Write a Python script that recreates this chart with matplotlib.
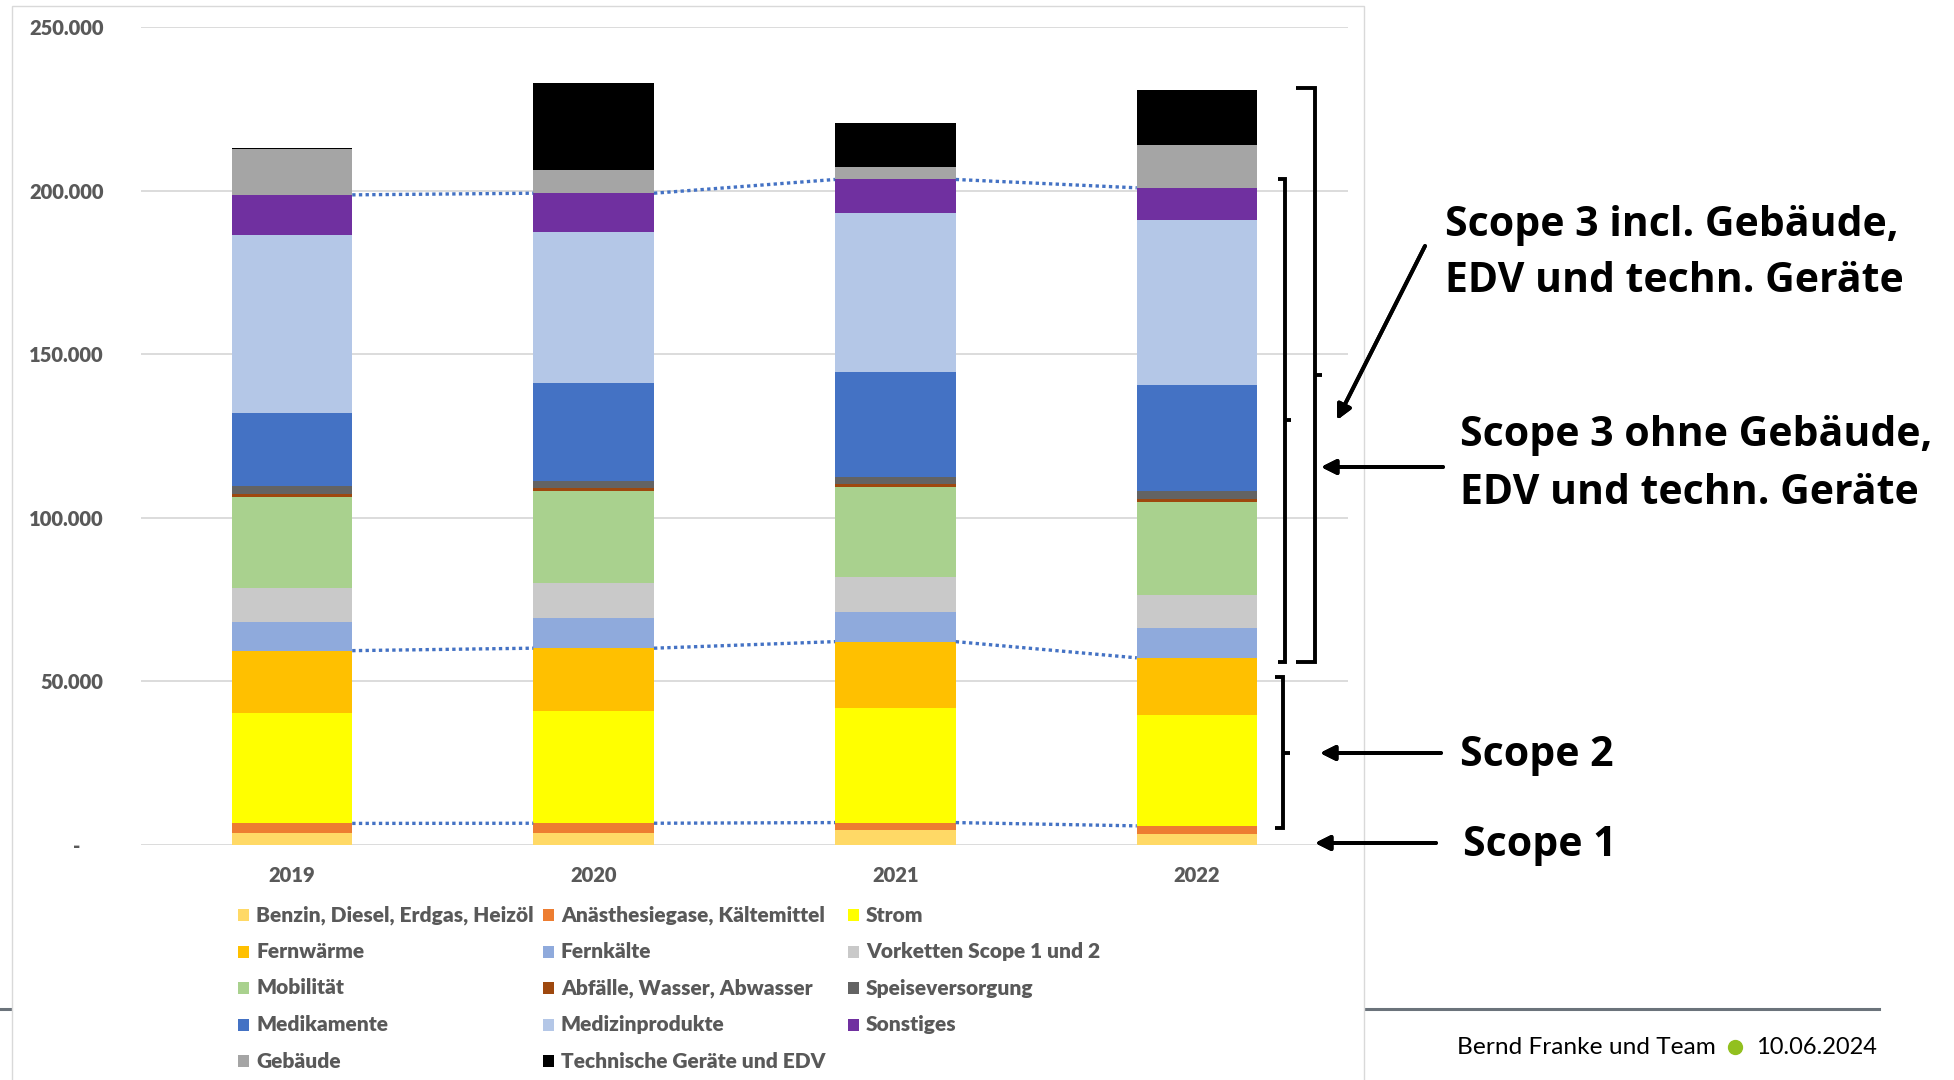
import matplotlib
matplotlib.use("Agg")
import matplotlib.pyplot as plt
from matplotlib.patches import Rectangle
from matplotlib.lines import Line2D
from matplotlib.ticker import FuncFormatter
import numpy as np

plt.rcParams['font.family'] = ['Lato', 'DejaVu Sans']
plt.rcParams['font.weight'] = 'heavy'

# CO2 emissions per category (t CO2e)
years = ['2019', '2020', '2021', '2022']
benzin = [3600, 3800, 4500, 3500]
anaesthesie = [3000, 2850, 2350, 2350]
strom = [33800, 34200, 34900, 33900]
fernwaerme = [19000, 19300, 20400, 17450]
fernkaelte = [8800, 9200, 9000, 9100]
vorketten = [10400, 10600, 10800, 10000]
mobilitaet = [27750, 28350, 27450, 28550]
abfaelle = [800, 700, 900, 800]
speise = [2550, 2350, 2250, 2450]
medikamente = [22200, 29700, 31950, 32350]
medizinprodukte = [54600, 46450, 48700, 50500]
sonstiges = [12200, 11700, 10200, 9900]
gebaeude = [14050, 7100, 3750, 12950]
technik = [300, 26600, 13550, 17000]

names = ['Benzin, Diesel, Erdgas, Heizöl', 'Anästhesiegase, Kältemittel', 'Strom',
         'Fernwärme', 'Fernkälte', 'Vorketten Scope 1 und 2',
         'Mobilität', 'Abfälle, Wasser, Abwasser', 'Speiseversorgung',
         'Medikamente', 'Medizinprodukte', 'Sonstiges',
         'Gebäude', 'Technische Geräte und EDV']
series = [benzin, anaesthesie, strom, fernwaerme, fernkaelte, vorketten, mobilitaet,
          abfaelle, speise, medikamente, medizinprodukte, sonstiges, gebaeude, technik]
colors = ['#FFD966', '#ED7D31', '#FFFF00', '#FFC000', '#8FAADC', '#C9C9C9', '#A9D18E',
          '#9E480E', '#636363', '#4472C4', '#B4C7E7', '#7030A0', '#A5A5A5', '#000000']
# series lines are drawn on top of these series
linked = [1, 3, 11]

W, H = 1954, 1080
fig = plt.figure(figsize=(W / 100, H / 100), dpi=100)


def fx(px):
    return px / W


def fy(py):
    return 1 - py / H


# footer line behind the chart box
fig.add_artist(Line2D([0, fx(1879)], [fy(1009), fy(1009)], color='#6B737B', lw=2.2, zorder=0))
fig.add_artist(Rectangle((fx(12), fy(1090)), fx(1364) - fx(12), fy(6) - fy(1090),
                         facecolor='white', edgecolor='#D9D9D9', lw=1, zorder=1))

ax = fig.add_axes([fx(141), fy(845), fx(1348) - fx(141), fy(27) - fy(845)], zorder=2)
ax.patch.set_visible(False)

x = np.arange(len(years))
w = 0.4
bottom = np.zeros(len(years))
tops = {}
for i, (vals, c) in enumerate(zip(series, colors)):
    ax.bar(x, vals, w, bottom=bottom, color=c, zorder=3)
    bottom = bottom + np.array(vals)
    tops[i] = bottom.copy()

for i in linked:
    for j in range(len(years) - 1):
        ax.plot([x[j] + w / 2, x[j + 1] - w / 2], [tops[i][j], tops[i][j + 1]],
                color='#4472C4', lw=2.4, ls=(0, (1, 1)), zorder=4)

ax.set_xlim(-0.5, 3.5)
ax.set_ylim(0, 250000)
ax.set_yticks(range(0, 250001, 50000))
ax.yaxis.set_major_formatter(FuncFormatter(
    lambda v, p: '-     ' if v == 0 else f'{int(v):,}'.replace(',', '.')))
ax.set_xticks(x)
ax.set_xticklabels(years)
ax.grid(axis='y', color='#D9D9D9', lw=1.3)
ax.set_axisbelow(True)
for s in ax.spines.values():
    s.set_visible(False)
ax.tick_params(axis='y', length=0, pad=27, labelsize=14.5, labelcolor='#595959')
ax.tick_params(axis='x', length=0, pad=15, labelsize=14.5, labelcolor='#595959')

# legend laid out like Excel: row by row, three columns
for i, (name, c) in enumerate(zip(names, colors)):
    row, col = divmod(i, 3)
    lx = 238 + col * 305
    ly = 915 + row * 36.5
    fig.add_artist(Rectangle((fx(lx), fy(ly + 6)), fx(11), fy(0) - fy(12),
                             facecolor=c, edgecolor='none', zorder=3))
    fig.text(fx(lx + 18), fy(ly), name, fontsize=15, color='#595959', va='center', zorder=3)

# scope brackets and arrows on the right
bk = dict(color='black', lw=2.8, solid_capstyle='butt', solid_joinstyle='miter', zorder=3)


def bracket(x0, x1, y0, y1, ym, tick):
    fig.add_artist(Line2D([fx(x0), fx(x1), fx(x1), fx(x0)],
                          [fy(y0), fy(y0), fy(y1), fy(y1)], **bk))
    fig.add_artist(Line2D([fx(x1), fx(x1 + tick)], [fy(ym), fy(ym)], **bk))


bracket(1296, 1315, 88, 662, 375, 7)
bracket(1278, 1285, 179, 662, 420, 6)
bracket(1275, 1283, 677, 828, 753, 7)

arrows = [((1425, 246), (1337, 420)), ((1443, 467), (1321, 467)),
          ((1441, 753), (1320, 753)), ((1436, 843), (1315, 843))]
for (x0, y0), (x1, y1) in arrows:
    fig.add_artist(plt.annotate('', xy=(fx(x1), fy(y1)), xytext=(fx(x0), fy(y0)),
                                xycoords='figure fraction', textcoords='figure fraction',
                                arrowprops=dict(arrowstyle='-|>', color='black', lw=2.8,
                                                mutation_scale=22, shrinkA=0, shrinkB=0)))

big = dict(fontsize=29.5, family='Open Sans', weight='bold', color='black', va='center')
fig.text(fx(1445), fy(225), 'Scope 3 incl. Gebäude,', **big)
fig.text(fx(1445), fy(281), 'EDV und techn. Geräte', **big)
fig.text(fx(1460), fy(436), 'Scope 3 ohne Gebäude,', **big)
fig.text(fx(1460), fy(493), 'EDV und techn. Geräte', **big)
fig.text(fx(1460), fy(755), 'Scope 2', **big)
fig.text(fx(1463), fy(846), 'Scope 1', **big)

# footer
fig.text(fx(1716), fy(1047), 'Bernd Franke und Team', fontsize=17.6, weight='normal',
         color='black', ha='right', va='center')
fig.add_artist(Line2D([fx(1735)], [fy(1047)], marker='o', markersize=10,
                      color='#92C01F', lw=0))
fig.text(fx(1756), fy(1047), '10.06.2024', fontsize=17, weight='normal',
         color='black', ha='left', va='center')

fig.savefig('out.png', dpi=100)
